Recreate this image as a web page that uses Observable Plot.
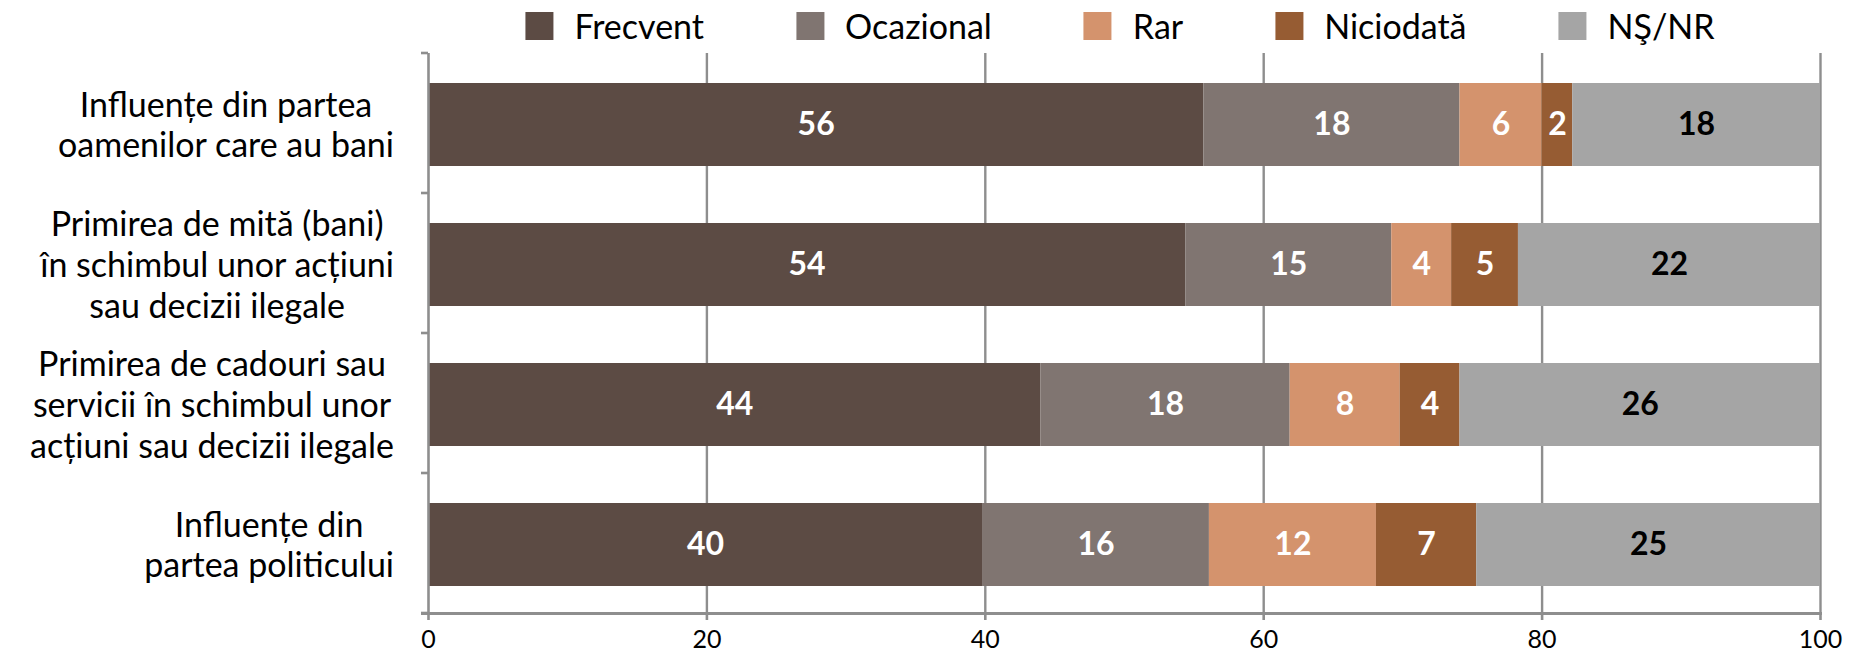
<!DOCTYPE html>
<html>
<head>
<meta charset="utf-8">
<script src="https://cdn.jsdelivr.net/npm/d3@7"></script>
<script src="https://cdn.jsdelivr.net/npm/@observablehq/plot@0.6"></script>
<style>
  html, body { margin: 0; padding: 0; background: #fff; }
  body { width: 1856px; height: 651px; overflow: hidden; font-family: Lato, "Open Sans", sans-serif; }
  #legend { position: relative; height: 48px; width: 1856px; }
  #legend .items { position: absolute; left: 1120px; top: 11px; transform: translateX(-50%); display: flex; align-items: center; gap: 92px; white-space: nowrap; }
  #legend .item { display: flex; align-items: center; gap: 21px; font-size: 34px; color: #000; line-height: 29px; }
  #legend .sw { width: 28px; height: 28px; display: inline-block; }
  #chart svg { display: block; }
</style>
</head>
<body>
<div id="legend"><div class="items"></div></div>
<div id="chart"></div>
<script>
// ---- data ----
const categories = [
  "Influențe din partea\noamenilor care au bani",
  "Primirea de mită (bani)\nîn schimbul unor acțiuni\nsau decizii ilegale",
  "Primirea de cadouri sau\nservicii în schimbul unor\nacțiuni sau decizii ilegale",
  "Influențe din\npartea politicului"
];
const seriesNames = ["Frecvent", "Ocazional", "Rar", "Niciodată", "NŞ/NR"];
const frecvent  = [55.7, 54.4, 44.0, 39.8];
const ocazional = [18.4, 14.8, 17.9, 16.3];
const rar       = [5.9, 4.3, 7.9, 12.0];
const niciodata = [2.2, 4.8, 4.3, 7.2];
const nsnr      = [17.8, 21.7, 25.9, 24.7];
const xTicks = [0, 20, 40, 60, 80, 100];
const colors = ["#5C4B44", "#807571", "#D4936D", "#965C33", "#A5A5A5"];

// ---- table ----
const seriesValues = [frecvent, ocazional, rar, niciodata, nsnr];
const data = [];
categories.forEach((cat, i) => {
  seriesNames.forEach((s, j) => data.push({cat, series: s, value: seriesValues[j][i]}));
});

// ---- legend ----
const items = document.querySelector("#legend .items");
seriesNames.forEach((s, j) => {
  const it = document.createElement("div");
  it.className = "item";
  const sw = document.createElement("span");
  sw.className = "sw";
  sw.style.background = colors[j];
  const t = document.createElement("span");
  t.textContent = s;
  it.appendChild(sw); it.appendChild(t);
  items.appendChild(it);
});

// ---- chart ----
const W = 1856, H = 603, mT = 5, mB = 38, mL = 428, mR = 36;
const step = (H - mT - mB) / categories.length;
const axisGray = "#8E8E8E";
const font = "Lato, 'Open Sans', sans-serif";
const last = seriesNames[seriesNames.length - 1];

const chart = Plot.plot({
  width: W, height: H,
  marginTop: mT, marginBottom: mB, marginLeft: mL, marginRight: mR,
  style: {fontFamily: font, background: "#fff", overflow: "visible"},
  x: {domain: [0, 100]},
  y: {domain: categories, paddingInner: 0.407, paddingOuter: 0.2035},
  color: {domain: seriesNames, range: colors},
  marks: [
    Plot.gridX(xTicks.slice(1), {stroke: axisGray, strokeOpacity: 1, strokeWidth: 2.4}),
    Plot.barX(data, Plot.stackX({x: "value", y: "cat", fill: "series", z: "series", order: seriesNames, dy: 2})),
    Plot.text(data, Plot.stackX({
      x: "value", y: "cat", z: "series", order: seriesNames, dy: 2,
      text: d => d.series === last ? null : String(Math.round(d.value)),
      fill: "white", fontWeight: "bold", fontSize: 32
    })),
    Plot.text(data, Plot.stackX({
      x: "value", y: "cat", z: "series", order: seriesNames, dy: 2,
      text: d => d.series === last ? String(Math.round(d.value)) : null,
      fill: "black", fontWeight: "bold", fontSize: 32
    })),
    // y axis line and band-boundary ticks
    Plot.ruleX([0], {stroke: axisGray, strokeWidth: 2.6}),
    Plot.axisY({tickSize: 7, tickFormat: () => "", dy: -step / 2, stroke: axisGray, strokeWidth: 2.6, label: null}),
    Plot.axisY([categories[categories.length - 1]], {tickSize: 7, tickFormat: () => "", dy: step / 2, stroke: axisGray, strokeWidth: 2.6, label: null}),
    // category labels
    Plot.axisY({tickSize: 0, tickPadding: 30, textAnchor: "middle", fontSize: 34, lineHeight: 1.2, fill: "black", label: null, tickFormat: d => d, dy: 1}),
    // bottom axis
    Plot.frame({anchor: "bottom", stroke: axisGray, strokeWidth: 3, insetLeft: -6}),
    Plot.axisX(xTicks, {tickSize: 7, tickPadding: 10, stroke: axisGray, strokeWidth: 2.6, fontSize: 25, fill: "black", label: null})
  ]
});
document.getElementById("chart").appendChild(chart);

// Center each category label's lines inside a box whose right edge sits at a common x
const rightEdge = 394;
chart.querySelectorAll('g[aria-label="y-axis tick label"] text').forEach(t => {
  const bb = t.getBBox();
  const ctm = t.getCTM();
  const left = ctm.e + bb.x;
  const shift = (rightEdge - bb.width) - left;
  const tr = t.getAttribute("transform") || "";
  t.setAttribute("transform", tr + ` translate(${shift},0)`);
});
</script>
</body>
</html>
